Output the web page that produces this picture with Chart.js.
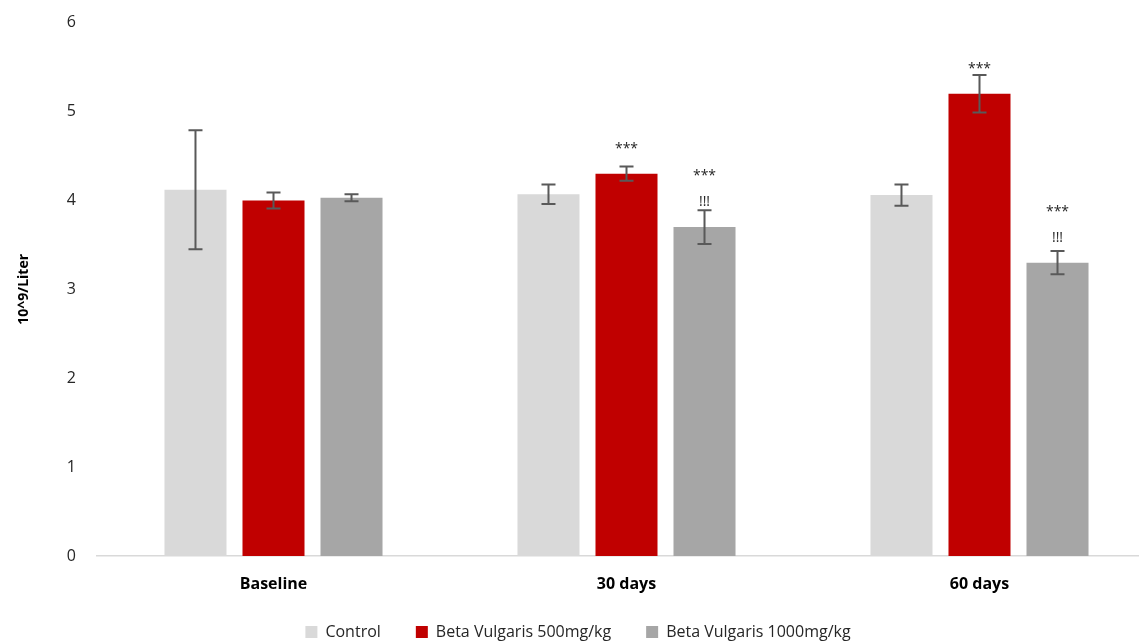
<!DOCTYPE html>
<html>
<head>
<meta charset="utf-8">
<script src="https://cdn.jsdelivr.net/npm/chart.js@4/dist/chart.umd.min.js"></script>
<style>
  html,body{margin:0;padding:0;background:#fff;overflow:hidden}
  #wrap{width:1192px;height:643px;position:relative}
</style>
</head>
<body>
<div id="wrap"><canvas id="c"></canvas></div>
<script>
const categories=['Baseline','30 days','60 days'];
const seriesNames=['Control','Beta Vulgaris 500mg/kg','Beta Vulgaris 1000mg/kg'];
const controlVals=[4.12,4.07,4.06];
const controlErr=[0.67,0.11,0.12];
const b500Vals=[4.00,4.30,5.20];
const b500Err=[0.09,0.08,0.21];
const b1000Vals=[4.03,3.70,3.30];
const b1000Err=[0.04,0.19,0.13];
const controlMarks=[[],[],[]];
const b500Marks=[[],['***'],['***']];
const b1000Marks=[[],['***','!!!'],['***','!!!']];
const yTicks=[0,1,2,3,4,5,6];

const FONT='"Open Sans", "Noto Sans", sans-serif';
const errs=[controlErr,b500Err,b1000Err];
const marks=[controlMarks,b500Marks,b1000Marks];

const errorBars={
  id:'errorBars',
  afterDatasetsDraw(chart){
    const ctx=chart.ctx, y=chart.scales.y;
    ctx.save();
    chart.data.datasets.forEach((ds,i)=>{
      const meta=chart.getDatasetMeta(i);
      meta.data.forEach((bar,j)=>{
        const v=ds.data[j], e=errs[i][j];
        const top=y.getPixelForValue(v+e), bot=y.getPixelForValue(v-e);
        ctx.strokeStyle='#595959'; ctx.lineWidth=2;
        ctx.beginPath();
        ctx.moveTo(bar.x,top); ctx.lineTo(bar.x,bot);
        ctx.moveTo(bar.x-7,top); ctx.lineTo(bar.x+7,top);
        ctx.moveTo(bar.x-7,bot); ctx.lineTo(bar.x+7,bot);
        ctx.stroke();
        const m=marks[i][j]||[];
        ctx.fillStyle='#262626'; ctx.font='14px '+FONT;
        ctx.textAlign='center'; ctx.textBaseline='middle';
        const n=m.length;
        m.forEach((t,k)=>{
          ctx.fillText(t,bar.x,bar.y-25-(n-1-k)*26);
        });
      });
    });
    ctx.restore();
  }
};

// legend keeps its wide item spacing but sits a bit higher in its box
const legendShift={
  id:'legendShift',
  afterLayout(chart){ const l=chart.legend; l.top-=8; l.bottom-=8; }
};

new Chart(document.getElementById('c'),{
  type:'bar',
  data:{labels:categories,datasets:[
    {label:seriesNames[0],data:controlVals,backgroundColor:'#d9d9d9'},
    {label:seriesNames[1],data:b500Vals,backgroundColor:'#c00000'},
    {label:seriesNames[2],data:b1000Vals,backgroundColor:'#a6a6a6'}
  ]},
  options:{
    responsive:true,maintainAspectRatio:false,animation:false,
    categoryPercentage:0.663,barPercentage:0.795,
    layout:{padding:{top:14,right:36,bottom:-8,left:0}},
    plugins:{
      tooltip:{enabled:false},
      legend:{position:'bottom',maxHeight:54,labels:{font:{family:FONT,size:16},color:'#262626',boxWidth:12,boxHeight:12,padding:35}}
    },
    scales:{
      x:{
        afterFit:s=>{s.height=41;},
        grid:{display:false},
        border:{color:'#d9d9d9',width:1.5},
        ticks:{font:{family:FONT,size:16,weight:'bold'},color:'#000',padding:11}
      },
      y:{
        min:0,max:6,
        afterBuildTicks:s=>{s.ticks=yTicks.map(v=>({value:v}));},
        afterFit:s=>{s.width=97;},
        grid:{display:false},
        border:{display:false},
        ticks:{font:{family:FONT,size:16},color:'#262626',padding:13},
        title:{display:true,text:'10^9/Liter',font:{family:FONT,size:14,weight:'bold'},color:'#000',padding:{top:16,bottom:0}}
      }
    }
  },
  plugins:[errorBars,legendShift]
});
</script>
</body>
</html>
